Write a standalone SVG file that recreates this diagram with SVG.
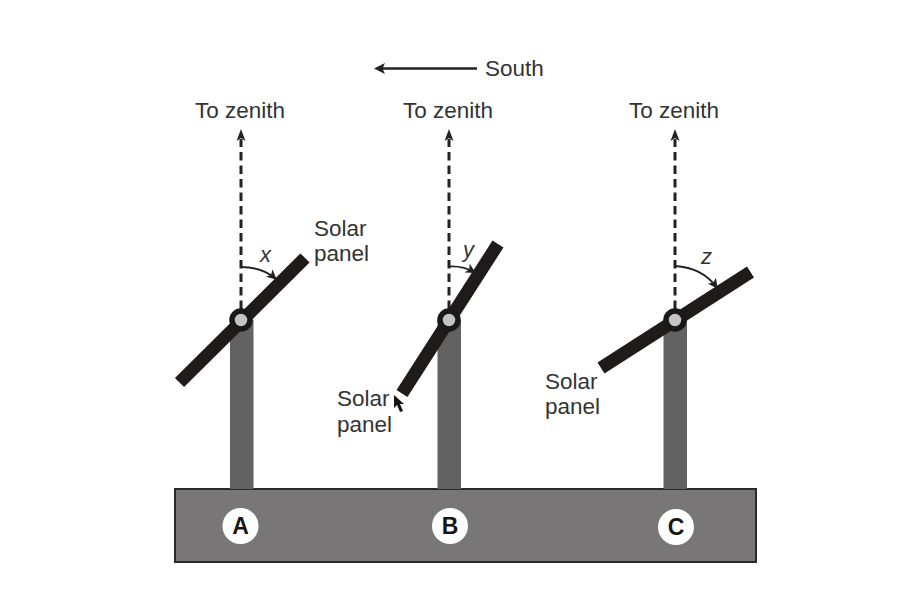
<svg xmlns="http://www.w3.org/2000/svg" width="900" height="600" viewBox="0 0 900 600">
<style>
text{font-family:"Liberation Sans",Arial,sans-serif;font-size:22.500px;fill:#333}
.i{font-style:italic;font-size:22px}
.post{fill:#636262}
.panel{stroke:#1f1b1b;stroke-width:13;fill:none}
.hub{fill:#c4c4c4;stroke:#1a1818;stroke-width:5.500}
.zen{stroke:#222;stroke-width:3;stroke-dasharray:8.500 5;fill:none}
.arc{stroke:#222;stroke-width:1.800;fill:none;marker-end:url(#a)}
.dot{fill:#fff}
.let{font-weight:bold;font-size:23px;fill:#161616;text-anchor:middle}
</style>
<defs>
<marker id="a" markerUnits="userSpaceOnUse" markerWidth="12" markerHeight="12" refX="9" refY="5" orient="auto"><path d="M0,0 L10,5 L0,10 L2.500,5 Z" fill="#222"/></marker>
</defs>
<rect width="900" height="600" fill="#fff"/>
<g id="base"><rect x="175" y="489" width="581" height="73" fill="#787676" stroke="#2a2a2a" stroke-width="2"/></g>
<g id="connectors">
<path d="M477,68.500H381" stroke="#222" stroke-width="2.400" fill="none"/>
<path d="M374,68.500L385,63 L382.500,68.500 L385,74 Z" fill="#222"/>
<path class="zen" d="M241,309V139"/><path d="M241,129L245.500,141 L241,138 L236.500,141 Z" fill="#222"/>
<path class="zen" d="M449,309V139"/><path d="M449,129L453.500,141 L449,138 L444.500,141 Z" fill="#222"/>
<path class="zen" d="M675,309V139"/><path d="M675,129L679.500,141 L675,138 L670.500,141 Z" fill="#222"/>
<path class="arc" d="M241,267C256,267 268,272 276,279"/>
<path class="arc" d="M449,266.500C458,266 467,268 475,272.500"/>
<path class="arc" d="M675,266C693,267 708,275 717,288"/>
</g>
<g id="station-a">
<rect class="post" x="230" y="320" width="23.500" height="169"/>
<path class="panel" d="M179.500,382.500L305,258"/>
<circle class="hub" cx="241" cy="320" r="9"/>
<circle class="dot" cx="240.500" cy="526" r="18"/>
<text class="let" x="240.500" y="534">A</text>
<text x="195" y="118">To zenith</text>
<text x="314" y="236">Solar</text><text x="314" y="261">panel</text>
<text class="i" x="260" y="262">x</text>
</g>
<g id="station-b">
<rect class="post" x="437.500" y="320" width="23.500" height="169"/>
<path class="panel" d="M402,393.500L498,244"/>
<circle class="hub" cx="449" cy="320" r="9"/>
<circle class="dot" cx="450" cy="526" r="18"/>
<text class="let" x="450" y="534">B</text>
<text x="403" y="118">To zenith</text>
<text x="337" y="406">Solar</text><text x="337" y="432">panel</text>
<text class="i" x="463" y="257">y</text>
<path d="M394,395L394,408 L397,405 L400,412 L403,411 L400,404 L404,404 Z" fill="#161616"/>
</g>
<g id="station-c">
<rect class="post" x="663.500" y="320" width="23.500" height="169"/>
<path class="panel" d="M601,368L750.500,272"/>
<circle class="hub" cx="675" cy="320" r="9"/>
<circle class="dot" cx="676" cy="527" r="18"/>
<text class="let" x="676" y="535">C</text>
<text x="629" y="118">To zenith</text>
<text x="545" y="389">Solar</text><text x="545" y="414">panel</text>
<text class="i" x="701" y="264">z</text>
</g>
<g id="south"><text x="485" y="76">South</text></g>
</svg>
